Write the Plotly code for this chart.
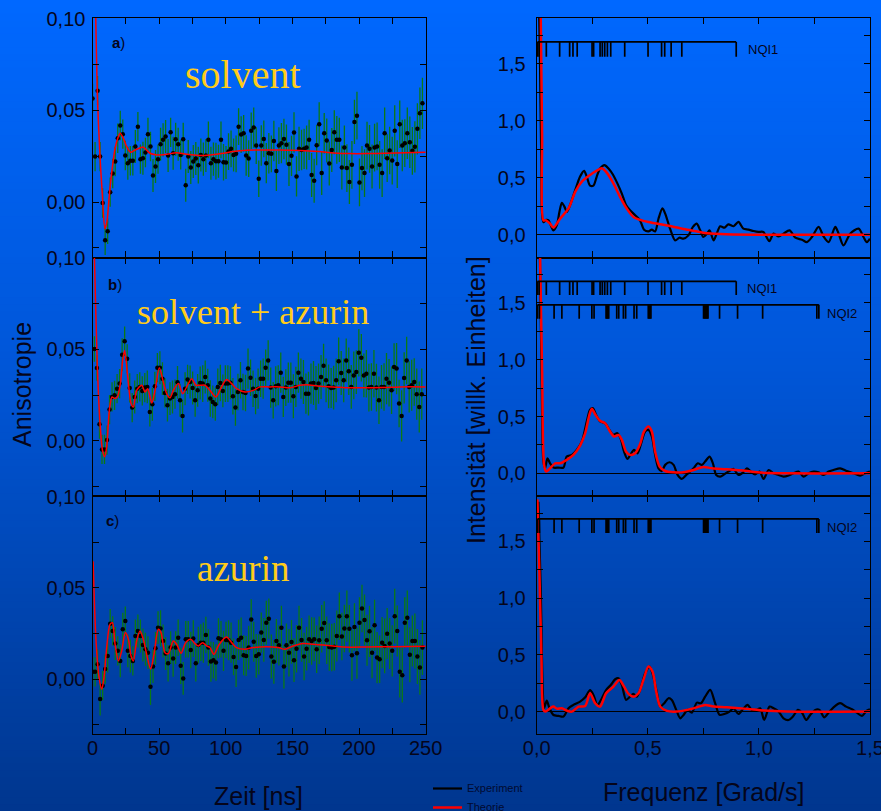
import plotly.graph_objects as go

# ---------------- data ----------------
DT_NS = 1.89
T0_A, T0_B, T0_C = 0.0, 1.4, 0.0

ANISO_A = [0.0565, 0.0248, 0.0607, 0.0248, -0.0005, -0.0208, -0.0159, 0.0054, 0.0156, 0.0221,
           0.0348, 0.0417, 0.0370, 0.0254, 0.0212, 0.0225, 0.0225, 0.0303, 0.0411, 0.0234,
           0.0239, 0.0270, 0.0370, 0.0303, 0.0145, 0.0194, 0.0234, 0.0315, 0.0339, 0.0357,
           0.0254, 0.0380, 0.0266, 0.0342, 0.0315, 0.0257, 0.0342, 0.0092, 0.0248, 0.0188,
           0.0221, 0.0237, 0.0201, 0.0257, 0.0234, 0.0254, 0.0339, 0.0212, 0.0234, 0.0223,
           0.0223, 0.0339, 0.0217, 0.0216, 0.0275, 0.0290, 0.0257, 0.0263, 0.0411, 0.0368,
           0.0375, 0.0254, 0.0237, 0.0388, 0.0406, 0.0308, 0.0127, 0.0308, 0.0344, 0.0212,
           0.0266, 0.0263, 0.0333, 0.0170, 0.0308, 0.0321, 0.0344, 0.0313, 0.0207, 0.0252,
           0.0379, 0.0140, 0.0290, 0.0284, 0.0290, 0.0297, 0.0339, 0.0147, 0.0116, 0.0310,
           0.0424, 0.0158, 0.0375, 0.0335, 0.0210, 0.0284, 0.0380, 0.0339, 0.0339, 0.0188,
           0.0297, 0.0185, 0.0109, 0.0203, 0.0437, 0.0471, 0.0107, 0.0185, 0.0158, 0.0308,
           0.0290, 0.0194, 0.0297, 0.0303, 0.0203, 0.0158, 0.0375, 0.0239, 0.0281, 0.0226,
           0.0388, 0.0207, 0.0424, 0.0308, 0.0321, 0.0375, 0.0326, 0.0279, 0.0301, 0.0399,
           0.0484, 0.0538]
ERR_A_MILLI = [8, 8, 8, 8, 8, 8, 7, 8, 8, 8, 8, 8, 8, 8, 9, 8, 8, 9, 8, 8,
               9, 8, 9, 8, 9, 9, 8, 9, 9, 9, 9, 8, 9, 9, 9, 8, 9, 9, 9, 9,
               9, 9, 10, 9, 9, 9, 10, 9, 9, 10, 9, 10, 10, 9, 10, 10, 9, 10, 10, 10,
               10, 11, 10, 10, 11, 10, 10, 11, 10, 11, 11, 10, 11, 11, 10, 11, 11, 11, 12, 11,
               11, 11, 12, 11, 11, 12, 11, 12, 12, 11, 12, 12, 11, 12, 12, 12, 12, 13, 12, 12,
               12, 13, 12, 13, 12, 13, 13, 12, 13, 13, 13, 12, 13, 13, 13, 13, 14, 13, 13, 13,
               14, 13, 13, 14, 13, 14, 14, 13, 14, 14, 14, 14]

ANISO_B = [0.0502, 0.0398, 0.0091, -0.0047, -0.0047, 0.0004, 0.0171, 0.0240, 0.0249, 0.0285,
           0.0313, 0.0471, 0.0545, 0.0449, 0.0289, 0.0182, 0.0240, 0.0285, 0.0295, 0.0273,
           0.0291, 0.0295, 0.0158, 0.0200, 0.0298, 0.0400, 0.0400, 0.0340, 0.0262, 0.0195,
           0.0231, 0.0240, 0.0255, 0.0320, 0.0222, 0.0136, 0.0285, 0.0336, 0.0322, 0.0289,
           0.0222, 0.0276, 0.0316, 0.0313, 0.0349, 0.0304, 0.0231, 0.0213, 0.0200, 0.0295,
           0.0316, 0.0273, 0.0313, 0.0313, 0.0318, 0.0244, 0.0182, 0.0267, 0.0331, 0.0267,
           0.0262, 0.0395, 0.0345, 0.0285, 0.0245, 0.0285, 0.0340, 0.0340, 0.0400, 0.0440,
           0.0291, 0.0222, 0.0298, 0.0304, 0.0373, 0.0240, 0.0291, 0.0318, 0.0318, 0.0244,
           0.0295, 0.0373, 0.0340, 0.0322, 0.0258, 0.0258, 0.0313, 0.0316, 0.0289, 0.0313,
           0.0349, 0.0411, 0.0331, 0.0298, 0.0289, 0.0291, 0.0331, 0.0435, 0.0371, 0.0331,
           0.0440, 0.0380, 0.0295, 0.0358, 0.0376, 0.0482, 0.0455, 0.0358, 0.0367, 0.0291,
           0.0295, 0.0367, 0.0291, 0.0222, 0.0295, 0.0295, 0.0340, 0.0318, 0.0276, 0.0404,
           0.0395, 0.0204, 0.0136, 0.0344, 0.0440, 0.0295, 0.0304, 0.0322, 0.0255, 0.0185,
           0.0255]
ERR_B_MILLI = [7, 7, 8, 8, 8, 8, 8, 8, 8, 8, 8, 9, 8, 8, 8, 8, 9, 8, 8, 8,
               8, 9, 8, 9, 8, 8, 9, 9, 8, 9, 9, 9, 8, 9, 9, 9, 9, 8, 9, 9,
               9, 9, 9, 10, 9, 9, 10, 9, 9, 10, 10, 9, 10, 10, 9, 10, 10, 10, 10, 10,
               10, 11, 10, 10, 10, 11, 10, 11, 10, 11, 11, 10, 11, 11, 11, 11, 10, 11, 11, 12,
               11, 11, 11, 12, 11, 12, 11, 12, 12, 11, 12, 12, 12, 12, 11, 12, 12, 13, 12, 12,
               12, 13, 12, 13, 12, 13, 13, 12, 13, 13, 13, 13, 13, 13, 12, 13, 14, 13, 13, 13,
               14, 13, 14, 14, 13, 14, 14, 13, 14, 14, 14]

ANISO_C = [0.0040, 0.0040, 0.0082, -0.0109, -0.0036, 0.0055, 0.0127, 0.0304, 0.0264, 0.0195,
           0.0155, 0.0100, 0.0273, 0.0318, 0.0155, 0.0127, 0.0100, 0.0236, 0.0264, 0.0236,
           0.0187, 0.0164, 0.0145, -0.0042, 0.0069, 0.0169, 0.0282, 0.0278, 0.0209, 0.0140,
           0.0087, 0.0173, 0.0113, 0.0173, 0.0227, 0.0073, 0.0004, 0.0218, 0.0218, 0.0160,
           0.0222, 0.0087, 0.0187, 0.0200, 0.0200, 0.0242, 0.0173, 0.0096, 0.0104, 0.0091,
           0.0224, 0.0218, 0.0155, 0.0215, 0.0213, 0.0200, 0.0122, 0.0067, 0.0215, 0.0227,
           0.0131, 0.0127, 0.0173, 0.0327, 0.0205, 0.0127, 0.0136, 0.0255, 0.0215, 0.0309,
           0.0331, 0.0124, 0.0095, 0.0209, 0.0185, 0.0282, 0.0069, 0.0185, 0.0145, 0.0204,
           0.0104, 0.0167, 0.0282, 0.0215, 0.0124, 0.0167, 0.0218, 0.0209, 0.0218, 0.0164,
           0.0213, 0.0276, 0.0307, 0.0213, 0.0176, 0.0173, 0.0178, 0.0236, 0.0345, 0.0233,
           0.0278, 0.0345, 0.0276, 0.0131, 0.0285, 0.0142, 0.0309, 0.0387, 0.0324, 0.0213,
           0.0262, 0.0145, 0.0295, 0.0118, 0.0109, 0.0200, 0.0182, 0.0249, 0.0195, 0.0155,
           0.0345, 0.0264, 0.0040, 0.0022, 0.0309, 0.0336, 0.0133, 0.0209, 0.0209, 0.0124,
           0.0064, 0.0173]
ERR_C_MILLI = [8, 8, 8, 9, 8, 8, 9, 8, 8, 9, 8, 9, 9, 8, 9, 9, 8, 9, 9, 9,
               9, 9, 9, 10, 9, 9, 9, 10, 9, 9, 10, 9, 10, 9, 10, 10, 9, 10, 10, 10,
               10, 10, 10, 10, 11, 10, 10, 11, 10, 10, 11, 10, 11, 10, 11, 11, 10, 11, 11, 11,
               11, 11, 12, 11, 11, 12, 11, 11, 12, 12, 11, 12, 12, 12, 11, 12, 12, 12, 13, 12,
               12, 13, 12, 12, 13, 12, 13, 13, 12, 13, 13, 13, 12, 13, 13, 13, 13, 14, 13, 13,
               13, 14, 13, 14, 13, 14, 14, 13, 14, 14, 14, 14, 14, 14, 13, 14, 15, 14, 14, 14,
               15, 14, 14, 15, 14, 15, 15, 14, 15, 15, 15, 15]

# fitted curves (time domain)
FIT_A_T = [0, 1.2, 2.4, 3.6, 5.6, 7.35, 9.3, 10.8, 12.6, 14.9, 16.9, 18.9, 20.7, 23.1, 25.6, 28.5,
           31.9, 35.6, 37.8, 40.5, 43.1, 48.1, 50.8, 55.6, 61.0, 63.1, 70.6, 78.1, 81.0, 88.1, 98.1,
           105.6, 115.6, 128, 140, 156, 170, 181, 193, 206, 220, 235, 250]
FIT_A_V = [0.16, 0.13, 0.10, 0.058, 0.0244, 0.004, -0.0145, -0.0105, 0.004, 0.0193, 0.0293, 0.0348,
           0.0375, 0.0348, 0.0302, 0.0271, 0.0284, 0.0295, 0.0300, 0.0284, 0.0266, 0.0257, 0.0256,
           0.0260, 0.0268, 0.0269, 0.0260, 0.0255, 0.0254, 0.0257, 0.0266, 0.0276, 0.0283, 0.0284,
           0.0284, 0.0281, 0.0275, 0.0268, 0.0264, 0.0264, 0.0266, 0.0269, 0.0272]

FIT_B_T = [0, 1.4, 3.6, 5.6, 7.4, 9.1, 10.6, 12.6, 14.6, 16.6, 18.6, 21.0, 22.6, 24.1, 26.4, 28.9,
           30.6, 33.1, 36.9, 39.4, 41.4, 44.4, 46.9, 50.1, 53.1, 55.6, 58.1, 60.6, 64.4, 67.6, 70.6,
           74.4, 77.6, 80.6, 84.4, 88.1, 92.6, 96.1, 100.6, 104.4, 108.1, 114.4, 120.6, 125.6, 133.1,
           140.6, 148.1, 155.6, 160.6, 170.6, 180.6, 193, 205.6, 218, 230.6, 250]
FIT_B_V = [0.14, 0.10, 0.0404, 0.0095, -0.0051, -0.0087, -0.0033, 0.0167, 0.024, 0.0231, 0.024,
           0.032, 0.044, 0.0494, 0.0349, 0.0204, 0.0185, 0.0276, 0.0304, 0.0267, 0.0285, 0.0207,
           0.0276, 0.04, 0.0322, 0.0258, 0.0235, 0.0276, 0.0313, 0.0258, 0.0294, 0.034, 0.0304,
           0.0304, 0.0304, 0.0276, 0.024, 0.0285, 0.0335, 0.0313, 0.0285, 0.0267, 0.0276, 0.0295,
           0.0295, 0.0295, 0.029, 0.0304, 0.0307, 0.0298, 0.0295, 0.029, 0.029, 0.0291, 0.0295, 0.0295]

FIT_C_T = [0.4, 2.6, 4.9, 6.9, 8.6, 10.6, 13.1, 14.9, 16.9, 19.4, 21.9, 24.6, 26.9, 28.9, 30.6, 33.1,
           35.6, 38.1, 40.6, 43.6, 46.1, 49.4, 51.4, 54.4, 56.9, 60.6, 63.1, 66.4, 69.9, 73.6, 76.9,
           79.4, 82.6, 85.6, 88.1, 91.1, 94.4, 98.1, 100.6, 104.4, 108.1, 114.4, 120.6, 130.6, 139.4,
           144.4, 150.6, 158.1, 165.6, 173.1, 180.6, 188.1, 205.6, 225.6, 250]
FIT_C_V = [0.0645, 0.0209, 0.0009, -0.0055, 0.0009, 0.0173, 0.03, 0.0309, 0.0191, 0.01, 0.0155,
           0.0255, 0.0218, 0.0127, 0.01, 0.0209, 0.0264, 0.0218, 0.0136, 0.0055, 0.0136, 0.0273,
           0.0255, 0.0145, 0.014, 0.0209, 0.0191, 0.0142, 0.02, 0.0218, 0.0195, 0.0182, 0.02, 0.0182,
           0.0173, 0.0136, 0.0182, 0.0218, 0.0231, 0.02, 0.0173, 0.0164, 0.0173, 0.0178, 0.0173,
           0.0164, 0.0182, 0.0195, 0.0191, 0.0187, 0.0182, 0.0176, 0.0176, 0.0178, 0.018]

# frequency spectra
F1_EXP_F = [0.008, 0.014, 0.02, 0.03, 0.042, 0.053, 0.063, 0.075, 0.09, 0.102, 0.113, 0.125, 0.135,
            0.15, 0.173, 0.195, 0.213, 0.225, 0.24, 0.255, 0.27, 0.285, 0.305, 0.323, 0.342, 0.363,
            0.383, 0.402, 0.42, 0.443, 0.465, 0.483, 0.503, 0.518, 0.533, 0.548, 0.566, 0.581, 0.6,
            0.623, 0.643, 0.66, 0.683, 0.703, 0.72, 0.736, 0.75, 0.766, 0.778, 0.796, 0.81, 0.826,
            0.845, 0.863, 0.886, 0.908, 0.93, 0.953, 0.976, 0.998, 1.02, 1.047, 1.066, 1.089, 1.111,
            1.138, 1.164, 1.194, 1.216, 1.239, 1.269, 1.291, 1.314, 1.344, 1.359, 1.381, 1.411,
            1.449, 1.471, 1.486, 1.5]
F1_EXP_I = [2.2, 1.6, 0.7, 0.11, 0.13, 0.126, 0.082, 0.038, 0.082, 0.2, 0.28, 0.244, 0.2, 0.26,
            0.39, 0.51, 0.56, 0.51, 0.43, 0.43, 0.51, 0.58, 0.61, 0.58, 0.53, 0.45, 0.36, 0.26, 0.215,
            0.17, 0.126, 0.044, 0.029, 0.044, 0.029, 0.14, 0.23, 0.17, 0.053, -0.05, -0.026, -0.035,
            -0.006, 0.068, 0.097, 0.038, -0.02, 0.009, 0.038, -0.05, 0.009, 0.074, 0.062, 0.091,
            0.074, 0.112, 0.053, 0.044, 0.032, 0.024, 0.024, -0.056, 0.009, -0.015, 0.009, 0.038,
            -0.026, -0.044, -0.065, -0.02, 0.068, -0.015, -0.065, 0.068, 0.009, -0.094, 0.009, 0.053,
            -0.02, -0.065, -0.035]
F1_TH_F = [0.012, 0.018, 0.024, 0.03, 0.042, 0.06, 0.075, 0.105, 0.143, 0.173, 0.203, 0.24, 0.27,
           0.293, 0.315, 0.345, 0.375, 0.405, 0.435, 0.473, 0.525, 0.6, 0.676, 0.75, 0.826, 0.976,
           1.126, 1.5]
F1_TH_I = [2.6, 1.9, 0.86, 0.126, 0.126, 0.097, 0.062, 0.14, 0.23, 0.376, 0.465, 0.524, 0.562,
           0.582, 0.544, 0.45, 0.332, 0.229, 0.156, 0.126, 0.103, 0.076, 0.044, 0.018, 0.006, 0.0,
           0.0, 0.0]

F2_EXP_F = [0.012, 0.0225, 0.03, 0.0375, 0.048, 0.06, 0.075, 0.098, 0.12, 0.135, 0.158, 0.18,
            0.203, 0.225, 0.24, 0.252, 0.267, 0.285, 0.308, 0.327, 0.345, 0.363, 0.378, 0.393,
            0.408, 0.423, 0.438, 0.453, 0.468, 0.488, 0.503, 0.518, 0.533, 0.548, 0.563, 0.578,
            0.598, 0.616, 0.634, 0.653, 0.673, 0.69, 0.706, 0.725, 0.743, 0.758, 0.778, 0.793,
            0.808, 0.826, 0.844, 0.863, 0.886, 0.908, 0.93, 0.946, 0.964, 0.983, 1.003, 1.021,
            1.044, 1.066, 1.089, 1.111, 1.134, 1.156, 1.179, 1.201, 1.224, 1.246, 1.269, 1.291,
            1.314, 1.336, 1.366, 1.396, 1.426, 1.456, 1.479, 1.5]
F2_EXP_I = [2.2, 0.75, 0.1, 0.044, 0.132, 0.088, 0.05, 0.05, 0.05, 0.147, 0.162, 0.206, 0.28,
            0.456, 0.56, 0.574, 0.515, 0.456, 0.44, 0.382, 0.338, 0.353, 0.303, 0.19, 0.126, 0.168,
            0.206, 0.176, 0.25, 0.368, 0.382, 0.324, 0.162, 0.044, 0.02, 0.074, 0.097, 0.074,
            -0.015, -0.05, -0.015, 0.015, 0.044, 0.088, 0.074, 0.103, 0.147, 0.088, -0.015, -0.03,
            -0.009, 0.015, 0.038, -0.015, 0.009, 0.044, 0.015, -0.009, 0.015, -0.05, 0.029, 0.0,
            -0.015, -0.03, -0.02, 0.0, 0.015, -0.03, 0.0, 0.015, 0.009, -0.015, 0.015, 0.029,
            0.044, 0.02, 0.0, -0.02, 0.0, 0.015]
F2_TH_F = [0.01, 0.015, 0.024, 0.033, 0.042, 0.06, 0.083, 0.105, 0.135, 0.165, 0.195, 0.218, 0.237,
           0.248, 0.263, 0.285, 0.308, 0.33, 0.348, 0.368, 0.383, 0.402, 0.42, 0.443, 0.465, 0.483,
           0.503, 0.518, 0.533, 0.553, 0.578, 0.616, 0.66, 0.706, 0.75, 0.788, 0.856, 0.946, 1.006,
           1.126, 1.5]
F2_TH_I = [2.6, 1.9, 0.9, 0.074, 0.015, 0.044, 0.088, 0.088, 0.118, 0.162, 0.244, 0.353, 0.515,
           0.568, 0.52, 0.462, 0.44, 0.368, 0.324, 0.338, 0.294, 0.19, 0.162, 0.176, 0.256, 0.368,
           0.412, 0.368, 0.19, 0.059, 0.02, 0.009, 0.009, 0.029, 0.056, 0.044, 0.035, 0.02, 0.006,
           0.0, 0.0]

F3_EXP_F = [0.0075, 0.018, 0.027, 0.033, 0.045, 0.057, 0.075, 0.098, 0.12, 0.143, 0.165, 0.195,
            0.218, 0.24, 0.255, 0.273, 0.293, 0.312, 0.333, 0.353, 0.368, 0.383, 0.402, 0.42, 0.435,
            0.45, 0.468, 0.488, 0.508, 0.523, 0.541, 0.556, 0.574, 0.593, 0.608, 0.628, 0.646,
            0.661, 0.679, 0.698, 0.721, 0.739, 0.758, 0.781, 0.803, 0.823, 0.844, 0.868, 0.886,
            0.908, 0.928, 0.949, 0.968, 0.988, 1.006, 1.024, 1.048, 1.066, 1.089, 1.111, 1.134,
            1.153, 1.176, 1.194, 1.213, 1.231, 1.254, 1.273, 1.294, 1.314, 1.336, 1.366, 1.393,
            1.419, 1.441, 1.464, 1.486, 1.5]
F3_EXP_I = [1.85, 1.07, 0.19, 0.03, 0.097, 0.03, -0.03, -0.038, -0.044, 0.03, 0.059, 0.088, 0.126,
            0.19, 0.147, 0.059, 0.118, 0.19, 0.235, 0.285, 0.294, 0.235, 0.103, 0.132, 0.156, 0.132,
            0.206, 0.338, 0.397, 0.324, 0.162, 0.044, 0.074, 0.118, 0.103, 0.015, -0.059, -0.029,
            0.015, -0.009, 0.079, 0.074, 0.132, 0.191, 0.074, -0.029, -0.021, 0.0, 0.029, -0.021,
            0.021, 0.059, 0.015, 0.015, 0.029, -0.074, 0.044, 0.029, 0.0, -0.059, -0.074, -0.044,
            0.015, -0.009, -0.074, -0.029, 0.015, 0.015, -0.05, -0.009, 0.038, 0.074, 0.044, 0.021,
            -0.009, -0.038, 0.009, 0.021]
F3_TH_F = [0.003, 0.012, 0.021, 0.03, 0.039, 0.06, 0.075, 0.09, 0.113, 0.135, 0.158, 0.188, 0.218,
           0.24, 0.263, 0.285, 0.312, 0.345, 0.372, 0.393, 0.413, 0.435, 0.458, 0.48, 0.503, 0.521,
           0.538, 0.556, 0.586, 0.631, 0.676, 0.721, 0.758, 0.796, 0.856, 0.946, 1.021, 1.126, 1.5]
F3_TH_I = [1.87, 1.22, 0.485, 0.015, 0.0, 0.029, 0.044, 0.026, 0.029, 0.009, 0.0, 0.044, 0.05,
           0.162, 0.074, 0.044, 0.162, 0.22, 0.279, 0.22, 0.156, 0.132, 0.162, 0.279, 0.397, 0.353,
           0.176, 0.044, 0.006, 0.0, 0.015, 0.038, 0.059, 0.044, 0.038, 0.024, 0.009, 0.0, 0.0]

# NQI stick spectra (frequencies in Grad/s; first/last entries are the bar end caps)
NQI1_F = [0.003, 0.0105, 0.043, 0.103, 0.148, 0.163, 0.182, 0.249, 0.256, 0.285, 0.295, 0.306,
          0.318, 0.333, 0.396, 0.501, 0.562, 0.576, 0.605, 0.653, 0.898]
NQI2_F = [0.003, 0.012, 0.078, 0.113, 0.191, 0.248, 0.258, 0.312, 0.316, 0.32, 0.324, 0.36, 0.369,
          0.39, 0.4, 0.438, 0.45, 0.502, 0.506, 0.51, 0.514, 0.751, 0.755, 0.759, 0.763, 0.767,
          0.771, 0.823, 0.904, 1.017, 1.261, 1.27]

TIME_TICKS = [0, 50, 100, 150, 200, 250]
PANEL_TITLES = ["solvent", "solvent + azurin", "azurin"]
PANEL_LETTERS = ["a", "b", "c"]
LEGEND_NAMES = ["Experiment", "Theorie"]

# ---------------- layout / styling ----------------
W, H = 881, 811
SANS = "Liberation Sans, Arial, sans-serif"
SERIF = "Liberation Serif, Times New Roman, serif"
TXT = "#05051a"
GOLD = "#ffcc1a"
GREEN = "#0b7a14"
EXP_COLOR, TH_COLOR = "black", "#ff0000"


def fx(p):
    return p / W


def fy(p):
    return 1 - p / H


LEFT_DOM = [fx(92.5), fx(425.7)]
RIGHT_DOM = [fx(536.7), fx(870.0)]
ROWS = [(18, 257.5), (257.5, 496), (496, 734.3)]

fig = go.Figure()

# time-domain panels
series = [(ANISO_A, ERR_A_MILLI, T0_A, FIT_A_T, FIT_A_V),
          (ANISO_B, ERR_B_MILLI, T0_B, FIT_B_T, FIT_B_V),
          (ANISO_C, ERR_C_MILLI, T0_C, FIT_C_T, FIT_C_V)]
for k, (vals, errs, t0, ft, fv) in enumerate(series):
    ax = "" if k == 0 else str(k + 1)
    t = [t0 + i * DT_NS for i in range(len(vals))]
    fig.add_trace(go.Scatter(
        x=t, y=vals, mode="markers", xaxis="x" + ax, yaxis="y" + ax, showlegend=False,
        marker=dict(color="black", size=4.5, symbol="circle"),
        error_y=dict(type="data", array=[e / 1000 for e in errs], color=GREEN,
                     thickness=1.3, width=0)))
    fig.add_trace(go.Scatter(
        x=ft, y=fv, mode="lines", xaxis="x" + ax, yaxis="y" + ax, showlegend=False,
        line=dict(color=TH_COLOR, width=1.5, shape="spline", smoothing=0.8)))

# frequency panels
spectra = [(F1_EXP_F, F1_EXP_I, F1_TH_F, F1_TH_I),
           (F2_EXP_F, F2_EXP_I, F2_TH_F, F2_TH_I),
           (F3_EXP_F, F3_EXP_I, F3_TH_F, F3_TH_I)]
for k, (ef, ei, tf, ti) in enumerate(spectra):
    ax = str(k + 4)
    fig.add_trace(go.Scatter(
        x=ef, y=ei, mode="lines", xaxis="x" + ax, yaxis="y" + ax, name=LEGEND_NAMES[0],
        showlegend=False, line=dict(color=EXP_COLOR, width=2.2, shape="spline", smoothing=0.8)))
    fig.add_trace(go.Scatter(
        x=tf, y=ti, mode="lines", xaxis="x" + ax, yaxis="y" + ax, name=LEGEND_NAMES[1],
        showlegend=False, line=dict(color=TH_COLOR, width=2.5, shape="spline", smoothing=0.8)))

# NQI stick bars: (axis, freqs, bar level, stick bottom, label, label x, label y)
NQI_PLACES = [("4", NQI1_F, 1.69, 1.56, "NQI1", 0.942, 1.625),
              ("5", NQI1_F, 1.69, 1.57, "NQI1", 0.938, 1.624),
              ("5", NQI2_F, 1.483, 1.36, "NQI2", 1.297, 1.41),
              ("6", NQI2_F, 1.698, 1.575, "NQI2", 1.297, 1.62)]
annotations = []
for ax, freqs, top, bot, lab, lx, ly in NQI_PLACES:
    xs, ys = [freqs[0], freqs[-1], None], [top, top, None]
    for f in freqs:
        xs += [f, f, None]
        ys += [top, bot, None]
    fig.add_trace(go.Scatter(x=xs, y=ys, mode="lines", xaxis="x" + ax, yaxis="y" + ax,
                             showlegend=False, hoverinfo="skip",
                             line=dict(color="black", width=1.7)))
    annotations.append(dict(x=lx, y=ly, xref="x" + ax, yref="y" + ax, text=lab, showarrow=False,
                            xanchor="left", yanchor="middle",
                            font=dict(family=SANS, size=13, color=TXT)))

axis_common = dict(showline=True, linecolor="black", linewidth=1.2, mirror="allticks",
                   ticks="inside", ticklen=6, tickwidth=1.3, tickcolor="black", showgrid=False,
                   zeroline=False, automargin=False, ticklabeloverflow="allow",
                   tickfont=dict(family=SANS, size=20, color=TXT))
minor_common = dict(ticks="inside", ticklen=6, tickwidth=1.3, tickcolor="black", showgrid=False)

layout = dict(width=W, height=H, margin=dict(l=0, r=0, t=0, b=0, pad=0), separators=",.",
              paper_bgcolor="#00378f", plot_bgcolor="rgba(0,0,0,0)", showlegend=False)

for r, (top, bot) in enumerate(ROWS):
    dom_y = [fy(bot), fy(top)]
    la = "" if r == 0 else str(r + 1)
    ra = str(r + 4)
    layout["xaxis" + la] = dict(axis_common, domain=LEFT_DOM, anchor="y" + la,
                                range=[-0.05, 250.05], tickmode="array", tickvals=TIME_TICKS,
                                showticklabels=(r == 2), ticklabelstandoff=-4,
                                minor=dict(minor_common, dtick=25, tick0=0))
    layout["yaxis" + la] = dict(axis_common, domain=dom_y, anchor="x" + la,
                                range=[-0.0302, 0.1003], dtick=0.05, tick0=0, tickformat=".2f",
                                ticklabelstandoff=2,
                                minor=dict(minor_common, dtick=0.025, tick0=0))
    layout["xaxis" + ra] = dict(axis_common, domain=RIGHT_DOM, anchor="y" + ra,
                                range=[-0.0003, 1.5003], dtick=0.5, tick0=0, tickformat=".1f",
                                showticklabels=(r == 2), ticklabelstandoff=-4,
                                minor=dict(minor_common, dtick=0.25, tick0=0))
    layout["yaxis" + ra] = dict(axis_common, domain=dom_y, anchor="x" + ra,
                                range=[-0.2, 1.9], dtick=0.5, tick0=0, tickformat=".1f",
                                ticklabelstandoff=6,
                                zeroline=True, zerolinecolor="black", zerolinewidth=1.3,
                                minor=dict(minor_common, dtick=0.25, tick0=0))

# panel titles & letters
TITLE_POS = [(242.5, 75, 40), (252.7, 312, 36), (242.5, 568, 37)]
LETTER_POS = [(118.5, 42.5), (115, 284.5), (112, 520.5)]
for k in range(3):
    x, y, s = TITLE_POS[k]
    annotations.append(dict(x=fx(x), y=fy(y), xref="paper", yref="paper", text=PANEL_TITLES[k],
                            showarrow=False, xanchor="center", yanchor="middle",
                            font=dict(family=SERIF, size=s, color=GOLD)))
    lx, ly = LETTER_POS[k]
    annotations.append(dict(x=fx(lx), y=fy(ly), xref="paper", yref="paper",
                            text="<b>%s</b>)" % PANEL_LETTERS[k], showarrow=False,
                            xanchor="center", yanchor="middle",
                            font=dict(family=SANS, size=15, color=TXT)))

# axis titles
title_font = dict(family=SANS, size=25, color=TXT)
annotations += [
    dict(x=fx(22), y=fy(385), xref="paper", yref="paper", text="Anisotropie", textangle=-90,
         showarrow=False, xanchor="center", yanchor="middle", font=title_font),
    dict(x=fx(258.5), y=fy(796), xref="paper", yref="paper", text="Zeit [ns]",
         showarrow=False, xanchor="center", yanchor="middle", font=title_font),
    dict(x=fx(476), y=fy(400), xref="paper", yref="paper", text="Intensität [willk. Einheiten]",
         textangle=-90, showarrow=False, xanchor="center", yanchor="middle", font=title_font),
    dict(x=fx(703), y=fy(792), xref="paper", yref="paper", text="Frequenz [Grad/s]",
         showarrow=False, xanchor="center", yanchor="middle", font=title_font),
]

# legend (drawn by hand so it does not push the page margins)
shapes = []
LEG_KEYS = [(LEGEND_NAMES[0], EXP_COLOR, 2.2, 788.5), (LEGEND_NAMES[1], TH_COLOR, 2.5, 807.5)]
for name, col, lw, ypx in LEG_KEYS:
    shapes.append(dict(type="line", xref="paper", yref="paper", x0=fx(433), x1=fx(462),
                       y0=fy(ypx), y1=fy(ypx), line=dict(color=col, width=lw)))
    annotations.append(dict(x=fx(465), y=fy(ypx - 1), xref="paper", yref="paper", text=name,
                            showarrow=False, xanchor="left", yanchor="middle",
                            font=dict(family=SANS, size=11, color="#000a30")))
layout["annotations"] = annotations

# vertical background gradient (decoration)
BG_STOPS = [(0.0, (0, 104, 255)), (0.45, (0, 86, 216)), (1.0, (0, 54, 142))]
N_STRIPS = 120
for i in range(N_STRIPS):
    p = (i + 0.5) / N_STRIPS
    for j in range(len(BG_STOPS) - 1):
        if BG_STOPS[j][0] <= p <= BG_STOPS[j + 1][0]:
            a, ca = BG_STOPS[j]
            b, cb = BG_STOPS[j + 1]
            u = (p - a) / (b - a)
            c = tuple(round(ca[m] + (cb[m] - ca[m]) * u) for m in range(3))
            break
    shapes.append(dict(type="rect", xref="paper", yref="paper", x0=0, x1=1,
                       y0=1 - (i + 1) / N_STRIPS - 0.002, y1=1 - i / N_STRIPS,
                       fillcolor="rgb(%d,%d,%d)" % c, line=dict(width=0), layer="below"))
layout["shapes"] = shapes

fig.update_layout(**layout)
fig.write_html("out.html", config={"displayModeBar": False},
               post_script="document.body.style.margin='0';document.body.style.padding='0';")
